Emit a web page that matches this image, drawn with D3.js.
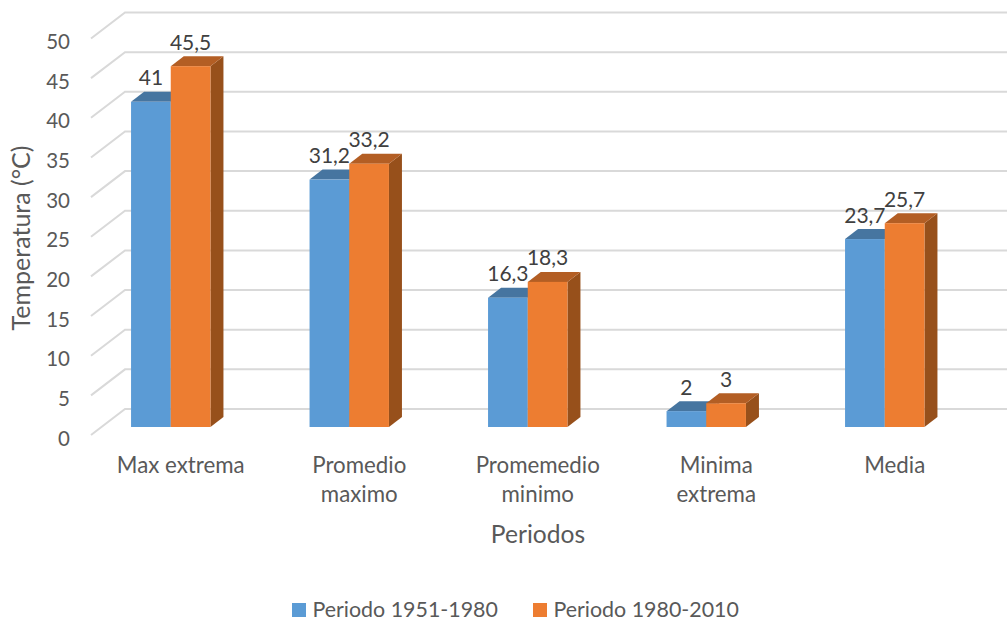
<!DOCTYPE html>
<html>
<head>
<meta charset="utf-8">
<script src="https://cdnjs.cloudflare.com/ajax/libs/d3/7.8.5/d3.min.js"></script>
<style>
  html, body { margin: 0; padding: 0; background: #fff; }
  svg { display: block; }
  text { font-family: Lato, "Open Sans", sans-serif; }
</style>
</head>
<body>
<div class="chart"></div>
<script>
var categories = ["Max extrema", "Promedio maximo", "Promemedio minimo", "Minima extrema", "Media"];
var categoryLines = [["Max extrema"], ["Promedio", "maximo"], ["Promemedio", "minimo"], ["Minima", "extrema"], ["Media"]];
var seriesNames = ["Periodo 1951-1980", "Periodo 1980-2010"];
var values1951 = [41, 31.2, 16.3, 2, 23.7];
var values1980 = [45.5, 33.2, 18.3, 3, 25.7];
var yTicks = [0, 5, 10, 15, 20, 25, 30, 35, 40, 45, 50];

var width = 1007, height = 618;
var faces = [
  {front: "#5b9bd5", top: "#4675a0", side: "#44739f"},
  {front: "#ed7d31", top: "#b35e24", side: "#97501b"}
];

var svg = d3.select(".chart").append("svg")
  .attr("width", width)
  .attr("height", height)
  .attr("viewBox", "0 0 " + width + " " + height);

var x = d3.scaleBand().domain(categories).range([91, 983.5]);
var y = d3.scaleLinear().domain([0, 50]).range([427, 30.5]);

var barW = 39.7, barShift = -9.5; // bars sit a little left of the label centre
var depthX = 13, depthY = 10;

// walls: slanted floor part then the back line
svg.append("g").selectAll("path")
  .data(yTicks)
  .enter().append("path")
  .attr("fill", "none")
  .attr("stroke", "#d9d9d9")
  .attr("stroke-width", 2)
  .attr("d", function(d) {
    return "M91," + (y(d) + 8) + "L125," + (y(d) - 18) + "L" + width + "," + (y(d) - 18);
  });

var yAxis = d3.axisLeft(y).tickValues(yTicks).tickSize(0).tickPadding(0);
var yG = svg.append("g").attr("transform", "translate(70,11.5)").call(yAxis);
yG.select(".domain").remove();
yG.selectAll("text").attr("fill", "#595959").style("font-family", "Lato").style("font-size", "20.5px");

function barX(cat, s) {
  return x(cat) + x.bandwidth() / 2 + barShift + (s - 1) * barW;
}

[values1951, values1980].forEach(function(vals, s) {
  var g = svg.append("g");
  var bars = g.selectAll("g").data(vals).enter().append("g");
  bars.append("path")
    .attr("fill", faces[s].side)
    .attr("d", function(d, i) {
      var r = barX(categories[i], s) + barW, t = y(d), b = y(0);
      return "M" + r + "," + t + "l" + depthX + "," + (-depthY) + "L" + (r + depthX) + "," + (b - depthY) + "L" + r + "," + b + "Z";
    });
  bars.append("path")
    .attr("fill", faces[s].top)
    .attr("d", function(d, i) {
      var l = barX(categories[i], s), t = y(d);
      return "M" + l + "," + t + "l" + depthX + "," + (-depthY) + "h" + barW + "l" + (-depthX) + "," + depthY + "Z";
    });
  bars.append("rect")
    .attr("fill", faces[s].front)
    .attr("x", function(d, i) { return barX(categories[i], s); })
    .attr("y", function(d) { return y(d); })
    .attr("width", barW)
    .attr("height", function(d) { return y(0) - y(d); });
});

// data labels go on top of everything
[values1951, values1980].forEach(function(vals, s) {
  svg.append("g").selectAll("text").data(vals).enter().append("text")
    .attr("x", function(d, i) { return barX(categories[i], s) + barW / 2; })
    .attr("y", function(d) { return y(d) - 16.5; })
    .attr("text-anchor", "middle")
    .attr("fill", "#404040")
    .style("font-size", "21px")
    .text(function(d) { return String(d).replace(".", ","); });
});

// category labels
var cat = svg.append("g").selectAll("text").data(categories).enter().append("text")
  .attr("text-anchor", "middle")
  .attr("fill", "#595959")
  .style("font-size", "22.3px");
cat.each(function(d, i) {
  d3.select(this).selectAll("tspan").data(categoryLines[i]).enter().append("tspan")
    .attr("x", x(d) + x.bandwidth() / 2 + 0.5)
    .attr("y", function(l, j) { return 473 + j * 29; })
    .text(function(l) { return l; });
});

svg.append("text")
  .attr("x", 538).attr("y", 543)
  .attr("text-anchor", "middle")
  .attr("fill", "#595959")
  .style("font-size", "24.6px")
  .text("Periodos");

svg.append("text")
  .attr("transform", "translate(30,238) rotate(-90)")
  .attr("text-anchor", "middle")
  .attr("fill", "#595959")
  .style("font-size", "25px")
  .text("Temperatura (°C)");

// legend
var legendX = [292, 533];
var legend = svg.append("g").selectAll("g").data(seriesNames).enter().append("g")
  .attr("transform", function(d, i) { return "translate(" + legendX[i] + ",603)"; });
legend.append("rect")
  .attr("width", 14).attr("height", 14)
  .attr("fill", function(d, i) { return faces[i].front; });
legend.append("text")
  .attr("x", 20.5).attr("y", 14)
  .attr("fill", "#595959")
  .style("font-size", "21.4px")
  .text(function(d) { return d; });
</script>
</body>
</html>
